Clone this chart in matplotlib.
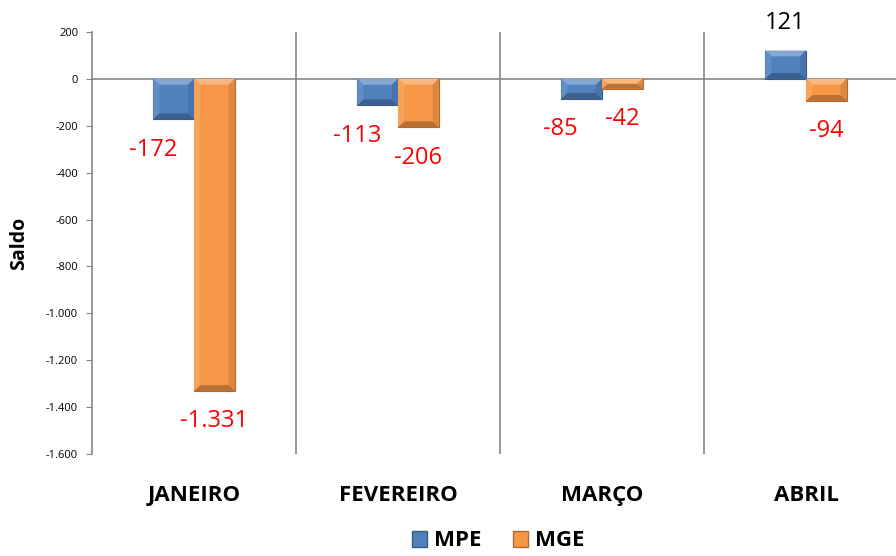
import matplotlib.pyplot as plt
import matplotlib.patches as mpatches
import numpy as np

meses = ['JANEIRO', 'FEVEREIRO', 'MARÇO', 'ABRIL']
mpe = [-172, -113, -85, 121]
mge = [-1331, -206, -42, -94]
cores = {'MPE': '#4F81BD', 'MGE': '#F79646'}
yticks = [200, 0, -200, -400, -600, -800, -1000, -1200, -1400, -1600]

plt.rcParams['font.family'] = ['Open Sans', 'DejaVu Sans']


def fmt(v):
    s = f'{abs(v):,}'.replace(',', '.')
    return ('-' if v < 0 else '') + s


def shade(hexcor, f):
    c = np.array(plt.matplotlib.colors.to_rgb(hexcor))
    if f > 0:
        c = c + (1 - c) * f
    else:
        c = c * (1 + f)
    return tuple(c)


def bevel_bar(ax, x, w, v, cor):
    y0, y1 = min(0, v), max(0, v)
    ax.add_patch(mpatches.Rectangle((x - w / 2, y0), w, y1 - y0, facecolor=cor,
                                    edgecolor=shade(cor, -0.3), lw=0.8, zorder=3))
    bx = 0.03
    by = min(25, (y1 - y0) / 2)
    bx = min(bx, w / 2)
    xl, xr = x - w / 2, x + w / 2
    # faces do bisel
    top = [(xl, y1), (xr, y1), (xr - bx, y1 - by), (xl + bx, y1 - by)]
    bot = [(xl, y0), (xr, y0), (xr - bx, y0 + by), (xl + bx, y0 + by)]
    esq = [(xl, y0), (xl, y1), (xl + bx, y1 - by), (xl + bx, y0 + by)]
    dir_ = [(xr, y0), (xr, y1), (xr - bx, y1 - by), (xr - bx, y0 + by)]
    for pts, f in [(top, 0.3), (bot, -0.25), (esq, 0.1), (dir_, -0.1)]:
        ax.add_patch(mpatches.Polygon(pts, closed=True, facecolor=shade(cor, f),
                                      edgecolor='none', zorder=4))


fig = plt.figure(figsize=(8.96, 5.56), dpi=100)
ax = fig.add_axes([92 / 896, 1 - 454 / 556, 816 / 896, 422 / 556])

x = np.arange(len(meses))
w = 0.2
for i in range(len(meses)):
    bevel_bar(ax, x[i] - w / 2, w, mpe[i], cores['MPE'])
    bevel_bar(ax, x[i] + w / 2, w, mge[i], cores['MGE'])

    v = mpe[i]
    if v >= 0:
        ax.annotate(fmt(v), (x[i] - w / 2, v), xytext=(0, 20), textcoords='offset points',
                    ha='center', va='center', fontsize=17, color='black')
    else:
        ax.annotate(fmt(v), (x[i] - w / 2, v), xytext=(-15, -22), textcoords='offset points',
                    ha='center', va='center', fontsize=17, color='red')
    v = mge[i]
    ax.annotate(fmt(v), (x[i] + w / 2, v), xytext=(0, -22), textcoords='offset points',
                ha='center', va='center', fontsize=17, color='red')

ax.set_xlim(-0.5, len(meses) - 0.5)
ax.set_ylim(-1600, 200)
ax.set_yticks(yticks)
ax.set_yticklabels([fmt(t) for t in yticks], fontsize=8)
ax.tick_params(axis='y', length=4, color='#868686', pad=6)
ax.axhline(0, color='#868686', lw=1.2, zorder=2)
for b in x[:-1] + 0.5:
    ax.axvline(b, color='#868686', lw=1.2, zorder=1)

ax.set_xticks(x)
ax.set_xticklabels(meses, fontsize=16, fontweight='bold')
ax.tick_params(axis='x', length=0, pad=22)

for s in ['top', 'right', 'bottom']:
    ax.spines[s].set_visible(False)
ax.spines['left'].set_color('#868686')
ax.spines['left'].set_linewidth(1.2)

ax.set_ylabel('Saldo', fontsize=14, fontweight='bold', labelpad=12)

handles = [mpatches.Patch(facecolor=cores[k], edgecolor=shade(cores[k], -0.3), label=k)
           for k in ['MPE', 'MGE']]
fig.legend(handles=handles, loc='center', bbox_to_anchor=(498 / 896, 1 - 541 / 556),
           ncol=2, frameon=False, prop={'size': 16, 'weight': 'bold'},
           handlelength=0.7, handleheight=0.7, handletextpad=0.3, columnspacing=1.4,
           borderpad=0)

fig.savefig('out.png', dpi=100)
